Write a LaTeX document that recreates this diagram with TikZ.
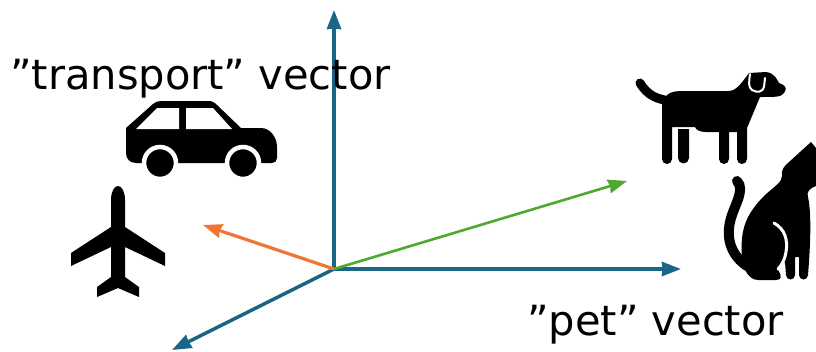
\documentclass[tikz,border=0pt]{standalone}
\usepackage{fontspec}
\setmainfont{DejaVu Sans}
\usetikzlibrary{arrows.meta}
\definecolor{axisblue}{HTML}{1B6587}
\definecolor{transportorange}{HTML}{ED7733}
\definecolor{petgreen}{HTML}{4FA82F}
\tikzset{
  label/.style={anchor=base west, inner sep=0pt, font=\fontsize{41.6}{50}\selectfont},
  arrow/.style={-{Stealth[length=19pt, width=14pt, inset=0.5pt]}, line width=3.5pt, draw=axisblue},
  smallarrow/.style={-{Stealth[length=19pt, width=14pt, inset=1.5pt]}, line width=2.6pt},
  icon/.style={fill=black, draw=none},
  iconline/.style={draw=black, line width=10pt, line cap=round},
  cutout/.style={draw=white, line width=2pt, line cap=round}
}
\begin{document}
\begin{tikzpicture}[x=1pt,y=-1pt]
  \useasboundingbox (0,0) rectangle (816,351);

  % car
  \path[icon] (126,128) -- (153,104) .. controls (155,102) and (158,101) .. (161,101) -- (208,101)
    .. controls (212,101) and (214,102) .. (217,105) -- (241,128) -- (261,128)
    .. controls (270,128) and (277,137) .. (277,147) -- (277,158) .. controls (277,161) and (275,163) .. (272,163)
    -- (136,163) .. controls (130,163) and (126,159) .. (126,153) -- cycle;
  \fill[white] (136,129) -- (157,108) -- (179,108) -- (179,129) -- cycle;
  \fill[white] (186,108) -- (213,108) -- (232,129) -- (186,129) -- cycle;
  \draw[icon, draw=white, line width=4.5pt] (160,163) circle (16);
  \draw[icon, draw=white, line width=4.5pt] (243,163) circle (16);

  % plane
  \path[icon] (118,186) .. controls (122,186) and (125,192) .. (125,200) -- (125,227) -- (165,253) -- (165,266)
    -- (125,247) -- (125,277) -- (139,287) -- (139,297) -- (118,288) -- (97,297) -- (97,287) -- (111,277)
    -- (111,247) -- (71,266) -- (71,253) -- (111,227) -- (111,200) .. controls (111,192) and (114,186) .. (118,186) -- cycle;

  % dog
  \draw[iconline, line width=9pt] (640,83) .. controls (648,96) and (657,99) .. (670,101);
  \path[icon] (667,95) .. controls (672,91) and (677,91) .. (685,91) -- (728,91)
    .. controls (736,91) and (740,85) .. (749,73) -- (766,72) .. controls (775,73) and (777,80) .. (779,83)
    .. controls (785,85) and (788,88) .. (784,93) .. controls (781,97) and (777,97) .. (760,97)
    -- (747,128) -- (747,159) arc[start angle=0, end angle=180, radius=5] -- (737,132) -- (729,132)
    -- (729,159) arc[start angle=0, end angle=180, radius=5] -- (719,132) -- (706,132)
    .. controls (700,132) and (696,130) .. (695,127) -- (672,127) -- (672,159)
    arc[start angle=0, end angle=180, radius=5] -- (662,104) -- cycle;
  \path[icon] (678,129) -- (689,129) -- (689,158) arc[start angle=0, end angle=180, radius=5.5] -- cycle;
  \draw[cutout] (750,74) .. controls (749,82) and (748,87) .. (752,90) .. controls (757,93) and (763,92) .. (764,87) -- (765,78);

  % cat
  \draw[iconline] (737,181) .. controls (746,190) and (733,207) .. (730,222)
    .. controls (726,240) and (732,256) .. (747,266);
  \path[icon] (811,142) -- (816,148) -- (816,186) .. controls (810,188) and (806,192) .. (808,197)
    .. controls (812,215) and (810,250) .. (808,275) arc[start angle=0, end angle=180, radius=4.5] -- (799,257) -- (795,257)
    -- (795,275) arc[start angle=0, end angle=180, radius=4.5] -- (785,262) -- (778,270)
    .. controls (782,276) and (782,280) .. (776,280) -- (758,280) .. controls (752,280) and (748,276) .. (744,268)
    -- (742,258) .. controls (740,230) and (745,215) .. (765,195) .. controls (775,186) and (782,182) .. (782,176)
    .. controls (781,170) and (784,166) .. (789,162) -- cycle;
  \draw[cutout, line width=3pt] (774,223) .. controls (785,229) and (788,240) .. (786,252) .. controls (785,259) and (782,265) .. (778,269);

  % axes
  \coordinate (origin) at (334,269);
  \coordinate (up) at (334,10);
  \coordinate (pet) at (681,269);
  \coordinate (down) at (172,350);
  \coordinate (plane) at (203,225);
  \coordinate (animal) at (627,181);

  \draw[arrow] (origin) -- (up);
  \draw[arrow] (origin) -- (pet);
  \draw[arrow] (origin) -- (down);
  \draw[smallarrow, draw=petgreen] (origin) -- (animal);
  \draw[smallarrow, draw=transportorange, line width=3.2pt] (origin) -- (plane);

  \node[label] (transport) at (10,89) {”transport” vector};
  \node[label] (petlabel) at (527,335.5) {”pet” vector};
\end{tikzpicture}
\end{document}
